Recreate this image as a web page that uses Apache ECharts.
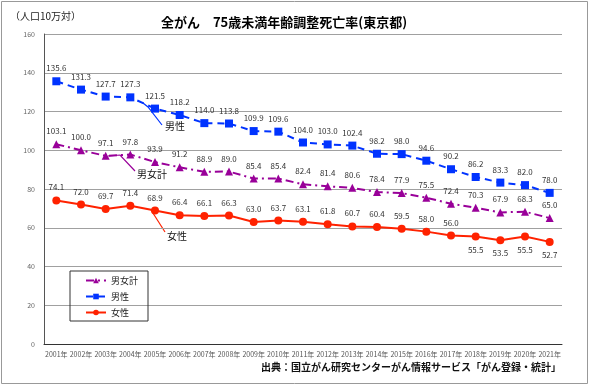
<!DOCTYPE html>
<html><head><meta charset="utf-8">
<script src="https://cdn.jsdelivr.net/npm/echarts@6/dist/echarts.min.js"></script>
<style>html,body{margin:0;padding:0;background:#fff}#c{width:590px;height:386px}</style>
</head><body><div id="c"></div>
<script>
const years = ['2001年','2002年','2003年','2004年','2005年','2006年','2007年','2008年','2009年','2010年','2011年','2012年','2013年','2014年','2015年','2016年','2017年','2018年','2019年','2020年','2021年'];
const total = [103.1,100.0,97.1,97.8,93.9,91.2,88.9,89.0,85.4,85.4,82.4,81.4,80.6,78.4,77.9,75.5,72.4,70.3,67.9,68.3,65.0];
const male = [135.6,131.3,127.7,127.3,121.5,118.2,114.0,113.8,109.9,109.6,104.0,103.0,102.4,98.2,98.0,94.6,90.2,86.2,83.3,82.0,78.0];
const female = [74.1,72.0,69.7,71.4,68.9,66.4,66.1,66.3,63.0,63.7,63.1,61.8,60.7,60.4,59.5,58.0,56.0,55.5,53.5,55.5,52.7];
const femaleLabelBelow = [17,18,19,20];
const yTicks = [0,20,40,60,80,100,120,140,160];

const FONT = '"Noto Sans CJK JP","Noto Sans",sans-serif';
const chart = echarts.init(document.getElementById('c'));
const lbl = {show:true, position:'top', fontSize:8, color:'#333', fontFamily:FONT, formatter:p=>p.value.toFixed(1)};

chart.setOption({
  animation:false,
  backgroundColor:'#fff',
  grid:{left:44,right:28,top:34,bottom:42},
  title:{text:'全がん　75歳未満年齢調整死亡率(東京都)', left:279, textAlign:'center', top:11,
    textStyle:{fontSize:13, fontWeight:'bold', color:'#000', fontFamily:FONT}},
  legend:{orient:'vertical', left:70, top:271, itemWidth:20, itemHeight:7, itemGap:7,
    padding:[5,10,4,15], borderColor:'#333', borderWidth:1,
    textStyle:{fontSize:9, color:'#222', fontFamily:FONT},
    data:['男女計','男性','女性']},
  xAxis:{type:'category', data:years, boundaryGap:true,
    axisLine:{lineStyle:{color:'#333',width:1}}, axisTick:{show:false},
    axisLabel:{fontSize:7, color:'#555', margin:7, interval:0, fontFamily:FONT}},
  yAxis:{type:'value', min:yTicks[0], max:yTicks[yTicks.length-1], interval:yTicks[1]-yTicks[0],
    axisLine:{show:true, lineStyle:{color:'#555'}}, axisTick:{show:false},
    axisLabel:{fontSize:7, color:'#666', margin:9, fontFamily:FONT},
    splitLine:{lineStyle:{color:'#a0a0a0', width:1}}},
  series:[
    {name:'男女計', type:'line', data:total, symbol:'triangle', symbolSize:8,
      itemStyle:{color:'#990099'}, lineStyle:{color:'#990099', width:2, type:[8,4,2,4]}, label:lbl, z:3},
    {name:'男性', type:'line', data:male, symbol:'rect', symbolSize:8,
      itemStyle:{color:'#0033ff'}, lineStyle:{color:'#0033ff', width:2, type:[7,5]}, label:lbl, z:3},
    {name:'女性', type:'line', data:female.map((v,i)=>femaleLabelBelow.includes(i)?{value:v,label:{position:'bottom'}}:v),
      symbol:'circle', symbolSize:8,
      itemStyle:{color:'#ff2200'}, lineStyle:{color:'#ff2200', width:2}, label:lbl, z:3}
  ],
  graphic:[
    {type:'rect', shape:{x:1.5,y:1.5,width:586,height:382}, style:{fill:null, stroke:'#999', lineWidth:1}, z:-1},
    {type:'text', left:10, top:11, style:{text:'（人口10万対）', fontSize:10, fill:'#222', fontFamily:FONT}},
    {type:'text', right:29, top:362, style:{text:'出典：国立がん研究センターがん情報サービス「がん登録・統計」', fontSize:10, fontWeight:'bold', fill:'#111', fontFamily:FONT}},
    {type:'polyline', shape:{points:[[143,103],[148,107],[162,125]]}, style:{stroke:'#0033ff', lineWidth:1.2, fill:null}},
    {type:'text', left:165, top:121, style:{text:'男性', fontSize:10, fill:'#111', fontFamily:FONT}},
    {type:'polyline', shape:{points:[[108,156],[120,155],[135,171]]}, style:{stroke:'#990099', lineWidth:1.2, fill:null}},
    {type:'text', left:137, top:169, style:{text:'男女計', fontSize:10, fill:'#111', fontFamily:FONT}},
    {type:'polyline', shape:{points:[[151,210],[165,232]]}, style:{stroke:'#ff2200', lineWidth:1.2, fill:null}},
    {type:'text', left:167, top:231, style:{text:'女性', fontSize:10, fill:'#111', fontFamily:FONT}}
  ]
});
</script></body></html>
